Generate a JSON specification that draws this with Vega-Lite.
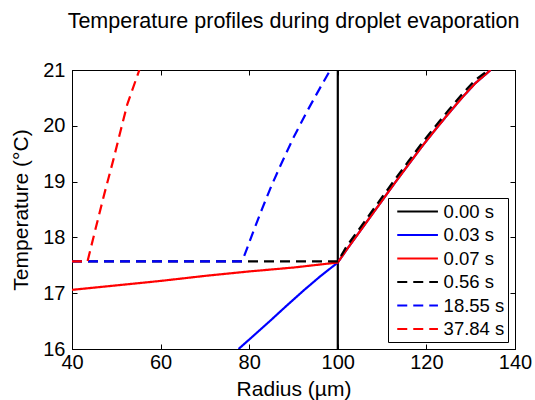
{
  "$schema": "https://vega.github.io/schema/vega-lite/v6.json",
  "width": 443,
  "height": 279,
  "autosize": "none",
  "padding": {"left": 72, "top": 70, "right": 20, "bottom": 51},
  "background": "white",
  "config": {
    "font": "Liberation Sans",
    "view": {"stroke": "black", "strokeWidth": 1},
    "axis": {"domainColor": "black", "tickColor": "black", "labelColor": "black", "titleColor": "black", "grid": false, "labelFont": "Liberation Sans", "titleFont": "Liberation Sans", "labelFontSize": 20, "titleFontSize": 21, "titleFontWeight": "normal", "tickSize": -5, "domainWidth": 1, "tickWidth": 1}
  },
  "title": {"text": "Temperature profiles during droplet evaporation", "fontSize": 21.5, "fontWeight": "normal", "font": "Liberation Sans", "color": "black", "anchor": "middle", "frame": "group", "baseline": "alphabetic", "offset": 11},
  "data": {"values": [
    {"t": "0.00 s", "r": 100, "T": 16},
    {"t": "0.00 s", "r": 100, "T": 21},

    {"t": "0.03 s", "r": 77.6, "T": 16.0},
    {"t": "0.03 s", "r": 81, "T": 16.24},
    {"t": "0.03 s", "r": 84.8, "T": 16.51},
    {"t": "0.03 s", "r": 88.5, "T": 16.78},
    {"t": "0.03 s", "r": 92.3, "T": 17.05},
    {"t": "0.03 s", "r": 96, "T": 17.30},
    {"t": "0.03 s", "r": 100, "T": 17.55},
    {"t": "0.03 s", "r": 102, "T": 17.78},
    {"t": "0.03 s", "r": 104, "T": 18.0},
    {"t": "0.03 s", "r": 106, "T": 18.22},
    {"t": "0.03 s", "r": 108, "T": 18.44},
    {"t": "0.03 s", "r": 110, "T": 18.66},
    {"t": "0.03 s", "r": 113, "T": 18.99},
    {"t": "0.03 s", "r": 116, "T": 19.31},
    {"t": "0.03 s", "r": 119, "T": 19.63},
    {"t": "0.03 s", "r": 122, "T": 19.93},
    {"t": "0.03 s", "r": 125, "T": 20.22},
    {"t": "0.03 s", "r": 128, "T": 20.5},
    {"t": "0.03 s", "r": 131, "T": 20.76},
    {"t": "0.03 s", "r": 134.5, "T": 21.0},

    {"t": "0.07 s", "r": 40, "T": 17.06},
    {"t": "0.07 s", "r": 50, "T": 17.14},
    {"t": "0.07 s", "r": 60, "T": 17.22},
    {"t": "0.07 s", "r": 70, "T": 17.31},
    {"t": "0.07 s", "r": 80, "T": 17.39},
    {"t": "0.07 s", "r": 90, "T": 17.46},
    {"t": "0.07 s", "r": 100, "T": 17.55},
    {"t": "0.07 s", "r": 102, "T": 17.78},
    {"t": "0.07 s", "r": 104, "T": 18.0},
    {"t": "0.07 s", "r": 106, "T": 18.22},
    {"t": "0.07 s", "r": 108, "T": 18.44},
    {"t": "0.07 s", "r": 110, "T": 18.66},
    {"t": "0.07 s", "r": 113, "T": 18.99},
    {"t": "0.07 s", "r": 116, "T": 19.31},
    {"t": "0.07 s", "r": 119, "T": 19.63},
    {"t": "0.07 s", "r": 122, "T": 19.93},
    {"t": "0.07 s", "r": 125, "T": 20.22},
    {"t": "0.07 s", "r": 128, "T": 20.5},
    {"t": "0.07 s", "r": 131, "T": 20.76},
    {"t": "0.07 s", "r": 134.5, "T": 21.0},

    {"t": "0.56 s", "r": 40, "T": 17.57},
    {"t": "0.56 s", "r": 100, "T": 17.57},
    {"t": "0.56 s", "r": 102, "T": 17.84},
    {"t": "0.56 s", "r": 104, "T": 18.06},
    {"t": "0.56 s", "r": 106, "T": 18.28},
    {"t": "0.56 s", "r": 108, "T": 18.5},
    {"t": "0.56 s", "r": 110, "T": 18.72},
    {"t": "0.56 s", "r": 113, "T": 19.05},
    {"t": "0.56 s", "r": 116, "T": 19.37},
    {"t": "0.56 s", "r": 119, "T": 19.69},
    {"t": "0.56 s", "r": 122, "T": 19.99},
    {"t": "0.56 s", "r": 125, "T": 20.28},
    {"t": "0.56 s", "r": 128, "T": 20.56},
    {"t": "0.56 s", "r": 131, "T": 20.82},
    {"t": "0.56 s", "r": 134, "T": 21.0},

    {"t": "18.55 s", "r": 40, "T": 17.57},
    {"t": "18.55 s", "r": 78.4, "T": 17.57},
    {"t": "18.55 s", "r": 79.5, "T": 17.8},
    {"t": "18.55 s", "r": 81, "T": 18.12},
    {"t": "18.55 s", "r": 83, "T": 18.53},
    {"t": "18.55 s", "r": 85, "T": 18.92},
    {"t": "18.55 s", "r": 87.3, "T": 19.33},
    {"t": "18.55 s", "r": 90, "T": 19.79},
    {"t": "18.55 s", "r": 93, "T": 20.25},
    {"t": "18.55 s", "r": 96, "T": 20.68},
    {"t": "18.55 s", "r": 98.3, "T": 21.0},

    {"t": "37.84 s", "r": 40, "T": 17.57},
    {"t": "37.84 s", "r": 43.5, "T": 17.57},
    {"t": "37.84 s", "r": 45.4, "T": 18.18},
    {"t": "37.84 s", "r": 47.3, "T": 18.78},
    {"t": "37.84 s", "r": 49.3, "T": 19.38},
    {"t": "37.84 s", "r": 51, "T": 19.92},
    {"t": "37.84 s", "r": 52.5, "T": 20.39},
    {"t": "37.84 s", "r": 55.2, "T": 21.0}
  ]},
  "layer": [
    {
      "mark": {"type": "line", "strokeWidth": 2.2, "clip": true},
      "encoding": {
        "x": {"field": "r", "type": "quantitative", "scale": {"domain": [40, 140], "nice": false, "zero": false},
              "axis": {"orient": "bottom", "title": "Radius (µm)", "values": [40, 60, 80, 100, 120, 140], "labelPadding": 8, "titlePadding": 6, "labelFlush": false}},
        "y": {"field": "T", "type": "quantitative", "scale": {"domain": [16, 21], "nice": false, "zero": false},
              "axis": {"orient": "left", "title": "Temperature (°C)", "values": [16, 17, 18, 19, 20, 21], "labelPadding": 12, "titlePadding": 11, "labelFlush": false}},
        "color": {"field": "t", "type": "nominal",
                  "scale": {"domain": ["0.00 s", "0.03 s", "0.07 s", "0.56 s", "18.55 s", "37.84 s"], "range": ["#000000", "#0000ff", "#ff0000", "#000000", "#0000ff", "#ff0000"]},
                  "legend": {"title": null, "orient": "bottom-right", "offset": 7, "fillColor": "white", "strokeColor": "black", "padding": 3, "symbolOffset": 16.1, "symbolType": "M-2.2,0H2.2", "symbolSize": 342, "symbolStrokeWidth": 2.2, "labelFontSize": 18.5, "labelFont": "Liberation Sans", "labelColor": "black", "labelOffset": 15.5, "rowPadding": 3.5, "labelLimit": 200, "labelExpr": "datum.label + '  '"}},
        "strokeDash": {"field": "t", "type": "nominal",
                  "scale": {"domain": ["0.00 s", "0.03 s", "0.07 s", "0.56 s", "18.55 s", "37.84 s"], "range": [[1, 0], [1, 0], [1, 0], [10, 6], [10, 6], [10, 6]]},
                  "legend": {"title": null}}
      }
    },
    {
      "mark": {"type": "point", "opacity": 0},
      "encoding": {
        "x": {"field": "r", "type": "quantitative", "axis": {"orient": "top", "title": null, "labels": false, "values": [40, 60, 80, 100, 120, 140]}},
        "y": {"field": "T", "type": "quantitative", "axis": {"orient": "right", "title": null, "labels": false, "values": [16, 17, 18, 19, 20, 21]}}
      }
    }
  ],
  "resolve": {"axis": {"x": "independent", "y": "independent"}}
}
